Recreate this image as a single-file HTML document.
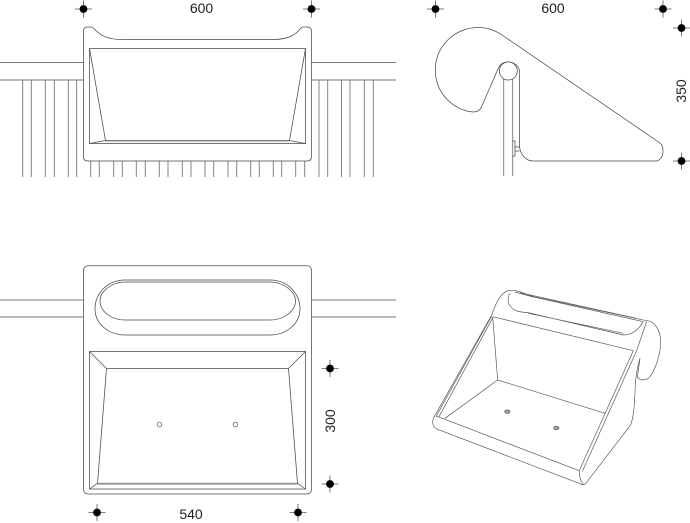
<!DOCTYPE html>
<html>
<head>
<meta charset="utf-8">
<style>
html,body{margin:0;padding:0;background:#fff;width:690px;height:523px;overflow:hidden}
svg{display:block}
text{font-family:"Liberation Sans",sans-serif;font-size:14px;fill:#222;text-anchor:middle}
.l{fill:none;stroke:#4a4a4a;stroke-width:.75}
.g{fill:none;stroke:#777;stroke-width:.9}
.p{fill:none;stroke:#555;stroke-width:2}
</style>
</head>
<body>
<svg width="690" height="523" viewBox="0 0 690 523" xmlns="http://www.w3.org/2000/svg">
<defs>
<g id="m">
<path d="M0,-8.500V8.500M-8.500,0H8.500" stroke="#555" stroke-width=".8" fill="none"/>
<circle r="3.900" fill="#000"/>
</g>
</defs>

<!-- marks -->
<use href="#m" x="83.500" y="9"/>
<use href="#m" x="311.500" y="9"/>
<use href="#m" x="435.500" y="9"/>
<use href="#m" x="663" y="9"/>
<use href="#m" x="681.500" y="28"/>
<use href="#m" x="681.500" y="161"/>
<use href="#m" x="330" y="368.500"/>
<use href="#m" x="330" y="484"/>
<use href="#m" x="97" y="512.500"/>
<use href="#m" x="298" y="512.500"/>

<!-- labels -->
<text x="201.500" y="13">600</text>
<text x="553" y="13">600</text>
<text x="191" y="519">540</text>
<text transform="translate(686,91) rotate(-90)">350</text>
<text transform="translate(335,421) rotate(-90)">300</text>

<!-- top-left: front view -->
<path class="g" d="M0,62.500H83.500M0,80H83.500M311.500,62.500H396M311.500,80H396"/>
<path class="g" d="M22.700,80V177M31.300,80V177M45.300,80V177M54.300,80V177M68.300,80V177M76.700,80V177
M319,80V177M327.700,80V177M341.500,80V177M350,80V177M364.300,80V177M373.300,80V177
M90.700,161V177M99.300,161V177M113.700,161V177M122.300,161V177M136.300,161V177M145.300,161V177M159.300,161V177M168,161V177M182.300,161V177M191,161V177M205,161V177M213.700,161V177M228,161V177M236.700,161V177M250.700,161V177M259.300,161V177M273.300,161V177M281.700,161V177M295.700,161V177M304.700,161V177"/>
<path class="l" style="fill:#fff" d="M88,27H91C96,27 97,39.500 122,39.500H273C298,39.500 299,27 303,27H307C310,27 311.500,28.500 311.500,31V157C311.500,159.500 310,161 307,161H88C85,161 83.500,159.500 83.500,157V31C83.500,28.500 85,27 88,27Z"/>
<path class="l" d="M89.500,48.500H305.500V143.500H89.500Z"/>
<path class="l" d="M89.500,48.500L105.500,140.500M305.500,48.500L289.500,140.500M89.500,143.500L105.500,140.500M305.500,143.500L289.500,140.500M105.500,140.500H289.500"/>
<path d="M105.500,141.800H289.500" stroke="#aaa" stroke-width=".7" fill="none"/>

<!-- top-right: side view -->
<path class="g" d="M503.700,78V176M512.700,78V176"/>
<path class="l" d="M478,27.500C489,27.500 496,31 502,35L660,143C664,146 665,158 657,161H533C525,161 519.500,153 519.500,145V72C519.500,66 514,62 508,62C503,62 500,64 498,69L481,108C479,111 476,112 473,112C452,110 435.300,92 435.300,70C435.300,46 455,27.500 478,27.500Z"/>
<circle class="l" cx="508.300" cy="71" r="9" style="fill:#fff"/>
<path class="l" d="M512.700,141H515V156H512.700M515,147H519.500M515,151H519.500"/>

<!-- bottom-left: top view -->
<path class="g" d="M0,300H83.500M0,317H83.500M311.500,300H396M311.500,317H396"/>
<rect class="l" x="83.500" y="265.700" width="228" height="228.300" rx="4.500" style="fill:#fff"/>
<path class="l" d="M125,280H270C289,280 300,295 300,309C300,324 286,335 270,335H125C109,335 95,324 95,309C95,295 106,280 125,280Z"/>
<path class="l" d="M125,282H270C284,282 295.500,292 295.500,301C295.500,311 284,320 270,320H125C111,320 100,311 100,301C100,292 111,282 125,282Z"/>
<rect class="l" x="89.500" y="351.500" width="216" height="137.500"/>
<path class="l" d="M106.500,368.500H288.500L297.500,483.300H97.500ZM89.500,351.500L106.500,368.500M305.500,351.500L288.500,368.500M89.500,489L97.500,483.300M305.500,489L297.500,483.300"/>
<path d="M97.500,484.600H297.500" stroke="#aaa" stroke-width=".7" fill="none"/>
<circle class="g" cx="159.500" cy="424.500" r="2.300"/>
<circle class="g" cx="235.500" cy="424.500" r="2.300"/>

<!-- bottom-right: perspective -->
<g transform="translate(420,280) scale(.33333)">
<path class="p" d="M40,415L215,105C228,70 242,32 272,31C300,30 320,46 350,52L680,122C702,122 722,150 722,185C722,225 705,270 690,290C680,302 662,302 652,292L660,235C655,250 650,275 647,300C644,340 645,400 632,435L505,600C497,615 490,617 480,611L50,447C38,441 36,428 40,415Z"/>
<path class="p" d="M48,410L215,108M56,412L219,112M218,110L640,212M218,110L233,300M233,300L555,400M233,300L75,415M48,408L478,572M478,572L640,212M487,574L650,212L680,124M478,572C478,590 482,605 490,613"/>
<path class="p" d="M270,40C262,50 262,70 272,80C285,95 300,96 325,98L610,165C635,165 655,150 670,125M285,36C300,40 320,46 345,52L670,125M325,100L610,160"/>
<path class="p" d="M300,38L650,115"/>
<ellipse cx="262" cy="395" rx="8" ry="5" style="fill:#aaa;stroke:#444;stroke-width:2"/>
<ellipse cx="409" cy="444" rx="8" ry="5" style="fill:#aaa;stroke:#444;stroke-width:2"/>
</g>
</svg>
</body>
</html>
